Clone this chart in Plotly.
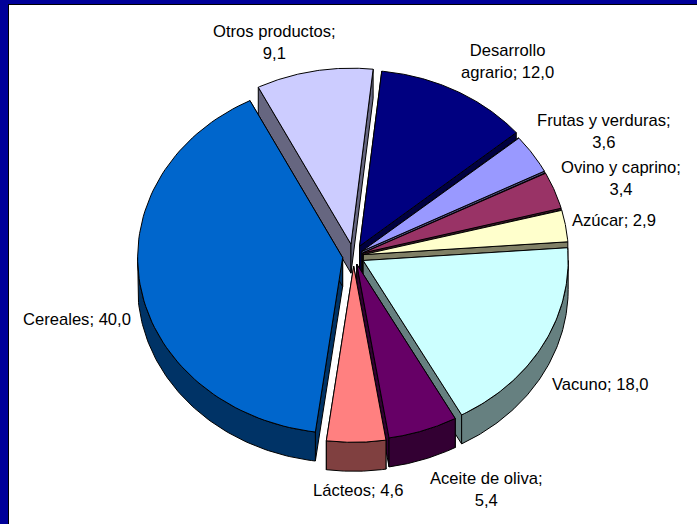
import numpy as np
import plotly.graph_objects as go

# Data, clockwise from the "Desarrollo agrario" slice
categories = ["Desarrollo agrario", "Frutas y verduras", "Ovino y caprino", "Azúcar",
              "Vacuno", "Aceite de oliva", "Lácteos", "Cereales", "Otros productos"]
values = [12.0, 3.6, 3.4, 2.9, 18.0, 5.4, 4.6, 40.0, 9.1]

# Styles
top_colors = ["#000080", "#9999FF", "#993366", "#FFFFCC", "#CCFFFF", "#660066", "#FF8080", "#0066CC", "#CCCCFF"]
wall_colors = ["#000040", "#4D4D80", "#4D1A33", "#808066", "#668080", "#330033", "#804040", "#003366", "#666680"]
explode = [13, 10, 10, 10, 11, 10, 12, 11, 14]
paint_order = [8, 0, 1, 2, 3, 4, 7, 5, 6]
label_text = ["Desarrollo<br>agrario; {}", "Frutas y verduras;<br>{}", "Ovino y caprino;<br>{}", "Azúcar; {}",
              "Vacuno; {}", "Aceite de oliva;<br>{}", "Lácteos; {}", "Cereales; {}", "Otros productos;<br>{}"]
label_xy = [(507, 61), (604, 131), (621, 178), (614, 220), (600, 384), (486, 489), (358, 490), (77, 319), (274, 42)]

start_angle = 6.2
cx, cy, rx, ry, depth = 353.5, 256.0, 205.0, 176.0, 29.0


def pt(deg, r=1.0):
    a = np.radians(deg)
    return r * rx * np.sin(a), -r * ry * np.cos(a)


spans = np.array(values) / sum(values) * 360.0
starts = start_angle + np.concatenate([[0], np.cumsum(spans)[:-1]])

fig = go.Figure()


def poly(xs, ys, color):
    fig.add_trace(go.Scatter(x=xs, y=ys, mode="lines", fill="toself", fillcolor=color,
                             line=dict(color="#000000", width=1), hoverinfo="skip", showlegend=False))


for i in paint_order:
    a0, a1 = starts[i], starts[i] + spans[i]
    mid = (a0 + a1) / 2
    ox, oy = pt(mid, explode[i] / rx)
    ox, oy = cx + ox, cy + oy
    th = np.linspace(a0, a1, 80)
    ex, ey = pt(th)
    ex, ey = ox + ex, oy + ey
    # radial walls
    poly([ox, ex[0], ex[0], ox, ox], [oy, ey[0], ey[0] + depth, oy + depth, oy], wall_colors[i])
    poly([ox, ex[-1], ex[-1], ox, ox], [oy, ey[-1], ey[-1] + depth, oy + depth, oy], wall_colors[i])
    # outer rim, only where it faces the viewer
    lo, hi = max(a0, 90.0), min(a1, 270.0)
    if lo < hi:
        t = np.linspace(lo, hi, 80)
        rxs, rys = pt(t)
        rxs, rys = ox + rxs, oy + rys
        poly(list(rxs) + list(rxs[::-1]) + [rxs[0]], list(rys) + list(rys[::-1] + depth) + [rys[0]], wall_colors[i])
    # top face
    poly([ox] + list(ex) + [ox], [oy] + list(ey) + [oy], top_colors[i])

for i, name in enumerate(categories):
    txt = label_text[i].format(f"{values[i]:.1f}".replace(".", ","))
    fig.add_annotation(x=label_xy[i][0], y=label_xy[i][1], text=txt, showarrow=False,
                       font=dict(family="Liberation Sans", size=16.6, color="#000000"),
                       align="center", xanchor="center", yanchor="middle")

fig.update_layout(
    width=697, height=524, autosize=False,
    paper_bgcolor="#000099", plot_bgcolor="#FFFFFF",
    margin=dict(l=9, r=0, t=5, b=0),
    xaxis=dict(range=[9, 697], side="top", showgrid=False, zeroline=False, showticklabels=False, ticks="",
               showline=True, linecolor="#000000", linewidth=1, mirror=False, fixedrange=True),
    yaxis=dict(range=[524, 5], showgrid=False, zeroline=False, showticklabels=False, ticks="",
               showline=True, linecolor="#000000", linewidth=1, mirror=False, fixedrange=True),
)
fig.write_html("out.html", config={"displayModeBar": False},
               post_script="document.body.style.margin='0';document.body.style.overflow='hidden';")
